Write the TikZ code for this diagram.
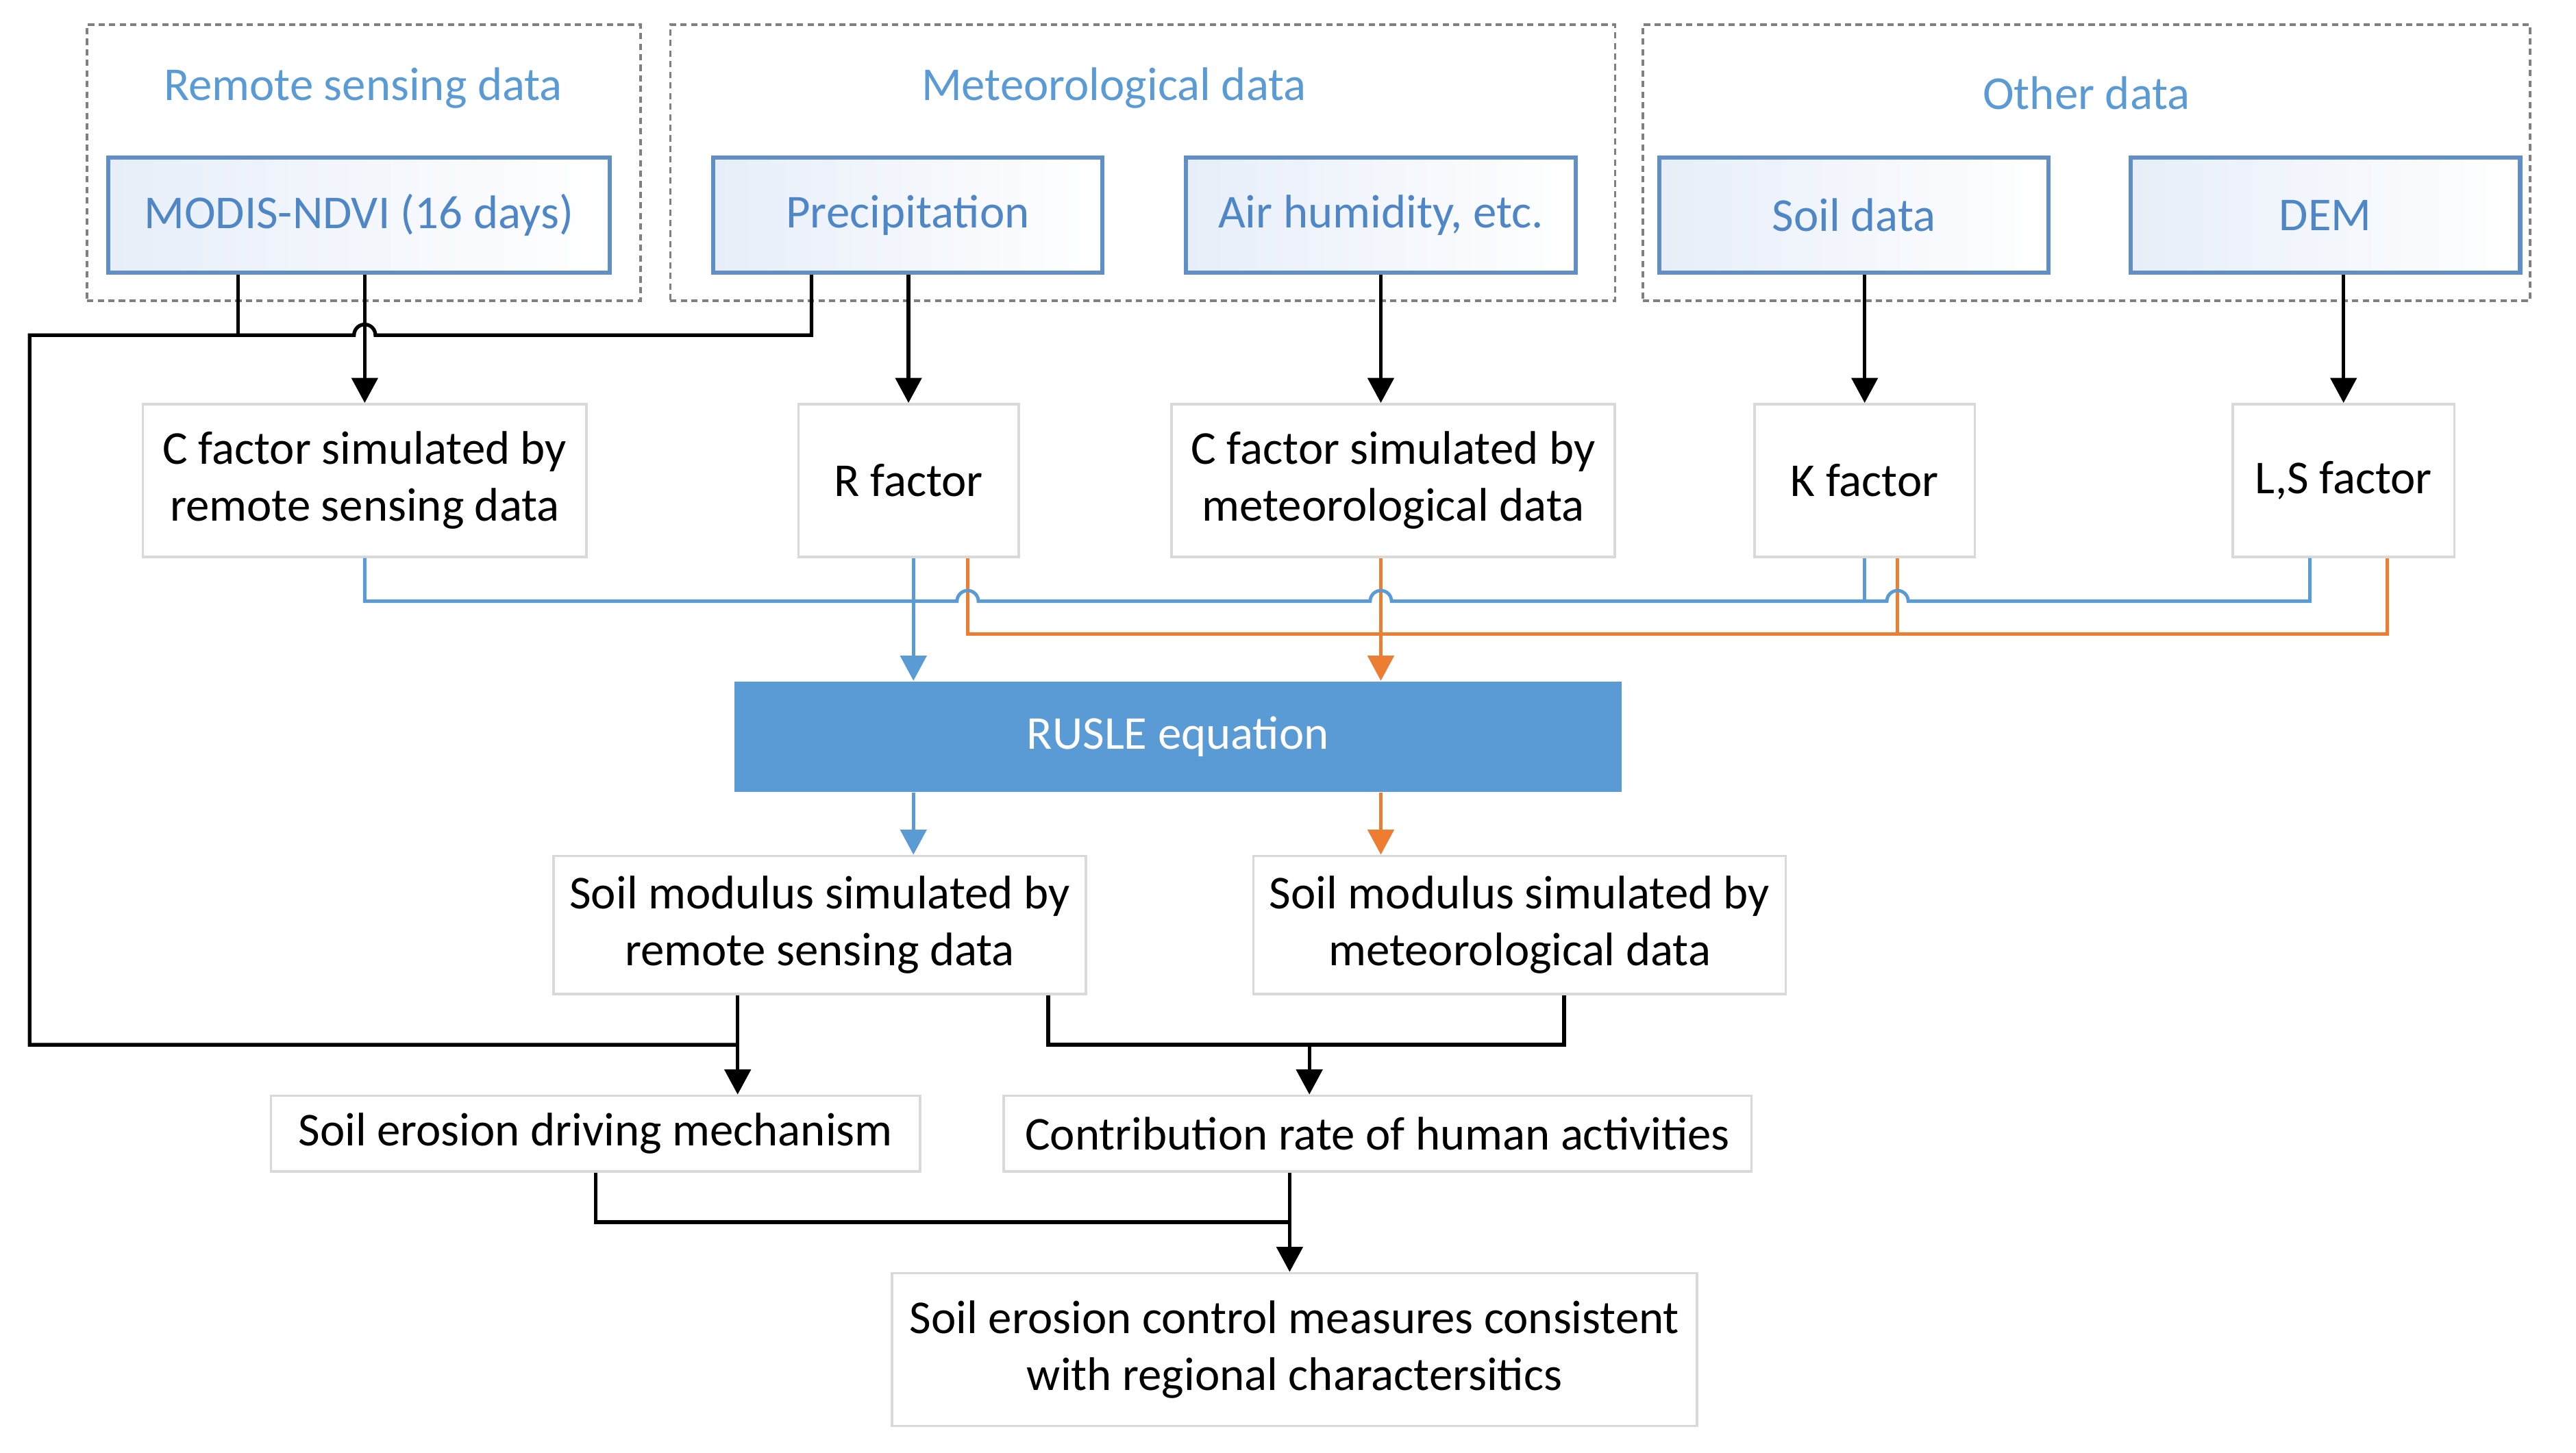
\documentclass[tikz,border=0pt]{standalone}
\usepackage{fontspec}
\setmainfont{Carlito}
\usepackage{tikz}
\usetikzlibrary{arrows.meta, calc}
\definecolor{titleblue}{RGB}{91,155,213}
\definecolor{inblue}{RGB}{79,134,198}
\definecolor{inborder}{RGB}{96,143,200}
\definecolor{infill}{RGB}{231,238,249}
\definecolor{plaingray}{RGB}{217,217,217}
\definecolor{groupgray}{RGB}{128,128,128}
\definecolor{rusleblue}{RGB}{91,155,213}
\definecolor{linkblue}{RGB}{91,155,213}
\definecolor{linkorange}{RGB}{237,125,49}
\tikzset{
	font={\fontsize{9.8}{11.8}\selectfont}}
\tikzstyle{group_box} = [rectangle, draw=groupgray, line width=0.5pt, dash pattern=on 1.3pt off 0.9pt, minimum height=20.16mm, inner sep=0]
\tikzstyle{group_title} = [text=titleblue, inner sep=0]
\tikzstyle{rect_input} = [rectangle, draw=inborder, line width=0.9pt, left color=infill, right color=white, text=inblue, minimum width=28.44mm, minimum height=8.4mm, inner sep=0]
\tikzstyle{rect_plain} = [rectangle, draw=plaingray, line width=0.5pt, fill=white, align=center, minimum height=11.16mm, inner sep=0]
\tikzstyle{rect_fill} = [rectangle, fill=rusleblue, text=white, minimum width=64.8mm, minimum height=8.04mm, inner sep=0]
\tikzstyle{arrow} = [line width=0.75pt, -{Triangle[length=5.2pt, width=5.4pt]}]
\tikzstyle{line} = [line width=0.75pt, -]
\tikzstyle{blue_line} = [line width=0.7pt, draw=linkblue, -]
\tikzstyle{blue_arrow} = [blue_line, -{Triangle[length=5.2pt, width=5.4pt]}]
\tikzstyle{orange_line} = [line width=0.7pt, draw=linkorange, -]
\tikzstyle{orange_arrow} = [orange_line, -{Triangle[length=5.2pt, width=5.4pt]}]

\begin{document}
\begin{tikzpicture}[x=0.12mm, y=-0.12mm]
\useasboundingbox (0,0) rectangle (1568,884.1);

% Datengruppen
\node[group_box, minimum width=40.44mm](grp_rs) at (221.5,99) {};
\node[group_box, minimum width=69mm](grp_met) at (695.5,99) {};
\node[group_box, minimum width=64.8mm](grp_other) at (1270,99) {};
\node[group_title](tit_rs) at (221,53.5) {Remote sensing data};
\node[group_title](tit_met) at (678,53.5) {Meteorological data};
\node[group_title](tit_other) at (1270,56.5) {Other data};

\node[rect_input, minimum width=36.6mm](modis) at (218.5,131) {MODIS-NDVI (16 days)};
\node[rect_input](prec) at (552.5,131) {Precipitation};
\node[rect_input](air) at (840.5,131) {Air humidity, etc.};
\node[rect_input](soil) at (1128.5,131) {Soil data};
\node[rect_input](dem) at (1415.5,131) {DEM};

% Faktoren
\node[rect_plain, minimum width=32.4mm](cf_rs) at (222,292.5) {C factor simulated by\\remote sensing data};
\node[rect_plain, minimum width=16.08mm](r_fac) at (553,292.5) {R factor};
\node[rect_plain, minimum width=32.4mm](cf_met) at (848,292.5) {C factor simulated by\\meteorological data};
\node[rect_plain, minimum width=16.08mm](k_fac) at (1135,292.5) {K factor};
\node[rect_plain, minimum width=16.2mm](ls_fac) at (1426.5,292.5) {L,S factor};

\node[rect_fill](rusle) at (717,448.5) {RUSLE equation};

% Ergebnisse
\node[rect_plain, minimum width=38.88mm, minimum height=10.08mm](sm_rs) at (499,563) {Soil modulus simulated by\\remote sensing data};
\node[rect_plain, minimum width=38.88mm, minimum height=10.08mm](sm_met) at (925,563) {Soil modulus simulated by\\meteorological data};
\node[rect_plain, minimum width=47.4mm, minimum height=5.52mm](drive) at (362.5,690) {Soil erosion driving mechanism};
\node[rect_plain, minimum width=54.6mm, minimum height=5.52mm](contrib) at (838.5,690) {Contribution rate of human activities};
\node[rect_plain, minimum width=58.8mm](measures) at (788,821.5) {Soil erosion control measures consistent\\with regional charactersitics};

% Hilfspunkte
\coordinate (j_modis) at (145,204);
\coordinate (j_prec) at (494,204);
\coordinate (j_left) at (18,204);
\coordinate (j_down) at (18,636);
\coordinate (j_drive) at (449,636);
\coordinate (hop_k) at (cf_rs.north |- j_prec);
\coordinate (rf_b) at ([xshift=0.36mm]r_fac.south);
\coordinate (rf_o) at ([xshift=4.32mm]r_fac.south);
\coordinate (cm_o) at (cf_met.south -| air.south);
\coordinate (kf_o) at ([xshift=2.4mm]k_fac.south);
\coordinate (ls_b) at ([xshift=-2.46mm]ls_fac.south);
\coordinate (ls_o) at ([xshift=3.18mm]ls_fac.south);
\coordinate (blue_y) at (0,366);
\coordinate (orange_y) at (0,386);
\coordinate (sm_l) at (638,636);
\coordinate (sm_r) at (952,636);
\coordinate (sm_mid) at (797,636);
\coordinate (c_fin) at (785,744);

% Daten -> Faktoren
\draw[arrow](modis.south -| cf_rs.north) -- (cf_rs.north);
\draw[arrow](prec.south -| r_fac.north) -- (r_fac.north);
\draw[arrow](air.south) -- (air.south |- cf_met.north);
\draw[arrow](soil.south -| k_fac.north) -- (k_fac.north);
\draw[arrow](dem.south -| ls_fac.north) -- (ls_fac.north);
\draw[line](modis.south -| j_modis) -- (j_modis);
\draw[line](prec.south -| j_prec) -- (j_prec) -- ([xshift=0.78mm]hop_k) arc[start angle=0, end angle=180, radius=0.78mm] -- (j_left) -- (j_down) -- (j_drive);

% Faktoren -> RUSLE
\draw[orange_line](rf_o) -- (rf_o |- orange_y) -- (ls_o |- orange_y) -- (ls_o);
\draw[orange_line](kf_o) -- (kf_o |- orange_y);
\draw[orange_arrow](cm_o) -- (rusle.north -| cm_o);
\draw[blue_line](cf_rs.south) -- (cf_rs.south |- blue_y)
	-- ($(rf_o |- blue_y)+(-6.5,0)$) arc[start angle=180, end angle=0, radius=0.78mm]
	-- ($(cm_o |- blue_y)+(-6.5,0)$) arc[start angle=180, end angle=0, radius=0.78mm]
	-- ($(kf_o |- blue_y)+(-6.5,0)$) arc[start angle=180, end angle=0, radius=0.78mm]
	-- (ls_b |- blue_y) -- (ls_b);
\draw[blue_line](k_fac.south) -- (k_fac.south |- blue_y);
\draw[blue_arrow](rf_b) -- (rusle.north -| rf_b);

% RUSLE -> Ergebnisse
\draw[blue_arrow](rusle.south -| rf_b) -- (sm_rs.north -| rf_b);
\draw[orange_arrow](rusle.south -| cm_o) -- (sm_met.north -| cm_o);
\draw[arrow](sm_rs.south -| j_drive) -- (drive.north -| j_drive);
\draw[line](sm_rs.south -| sm_l) -- (sm_l) -- (sm_r) -- (sm_met.south -| sm_r);
\draw[arrow](sm_mid) -- (contrib.north -| sm_mid);
\draw[line](drive.south) -- (drive.south |- c_fin) -- (c_fin);
\draw[arrow](contrib.south -| c_fin) -- (measures.north -| c_fin);

\end{tikzpicture}
\end{document}
